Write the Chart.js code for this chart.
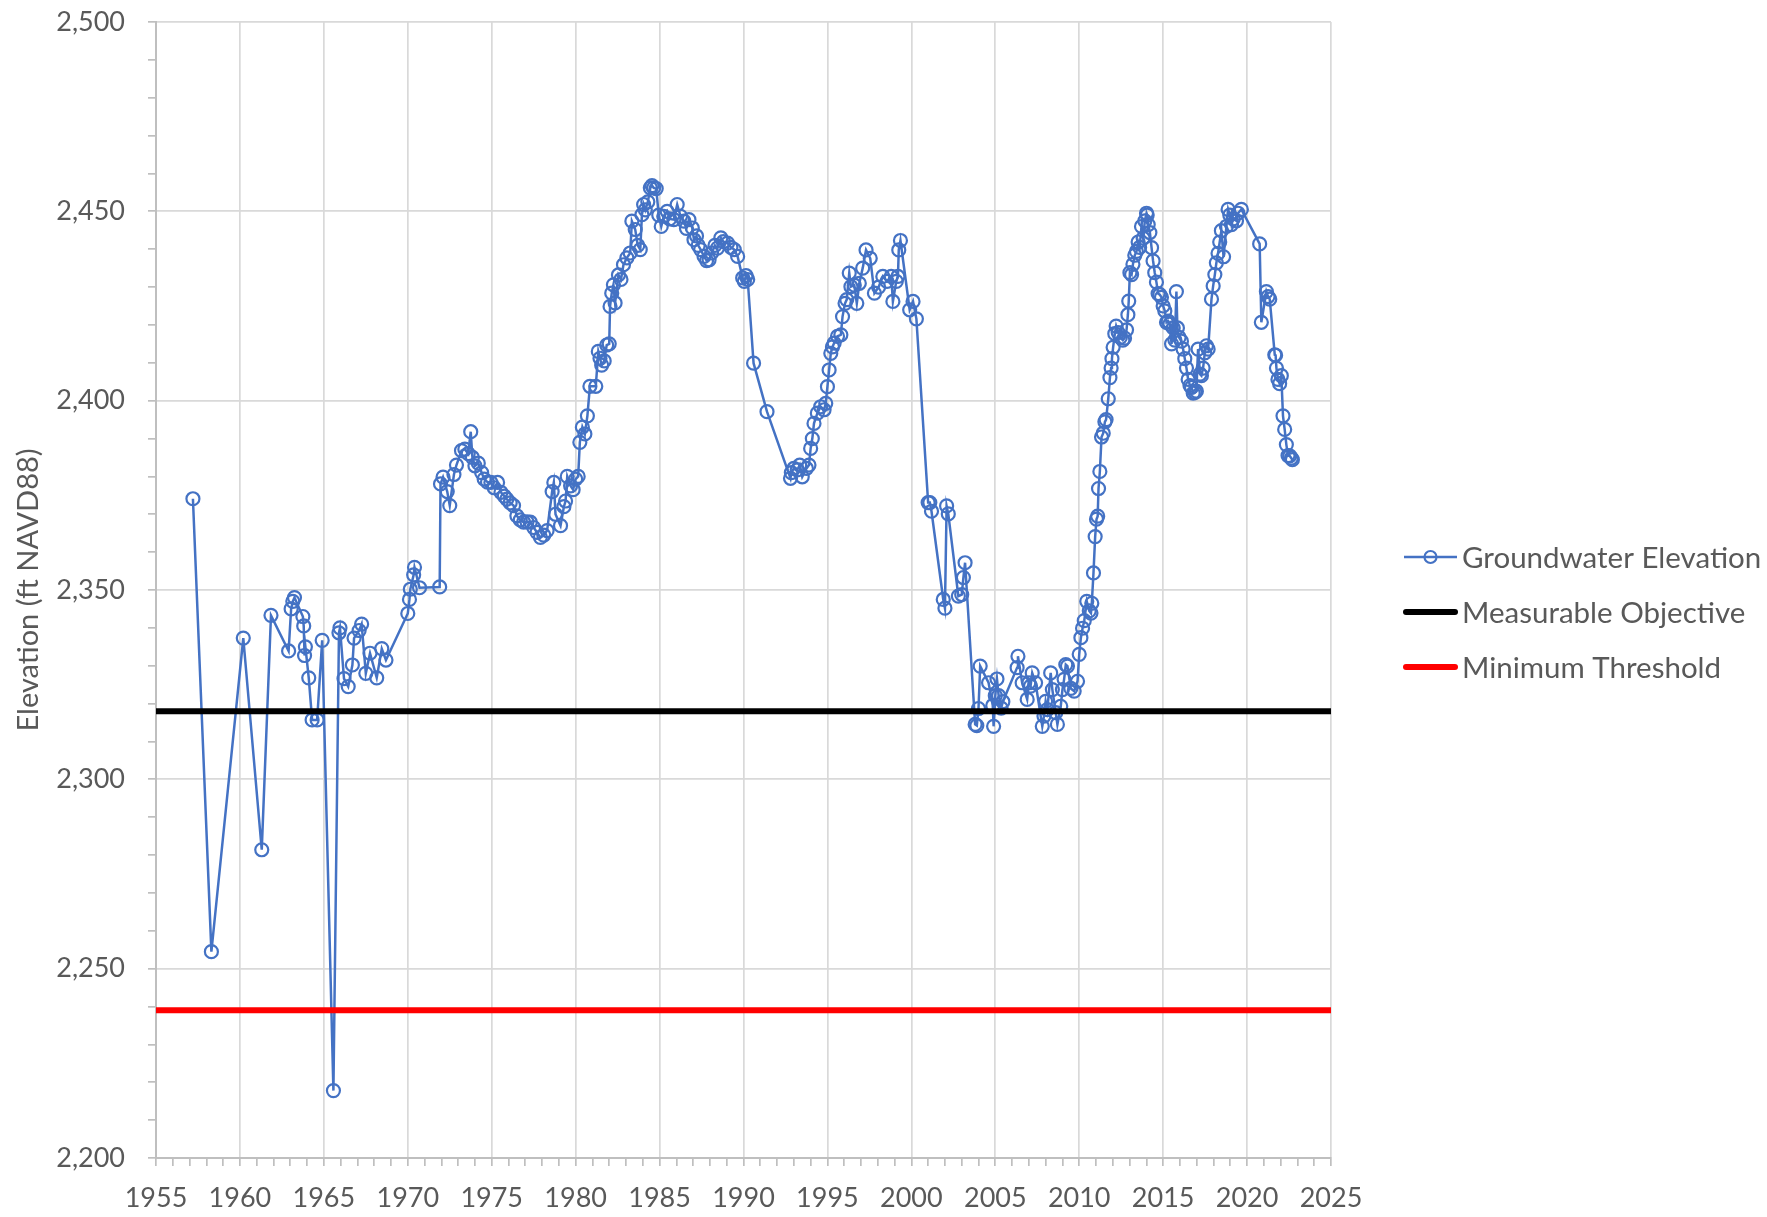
<!DOCTYPE html>
<html>
<head>
<meta charset="utf-8">
<script src="https://cdn.jsdelivr.net/npm/chart.js@4.4.1/dist/chart.umd.min.js"></script>
<style>
  html, body { margin: 0; padding: 0; background: #fff; }
  #wrap { width: 1767px; height: 1217px; }
</style>
</head>
<body>
<div id="wrap"><canvas id="chart" width="1767" height="1217"></canvas></div>
<script>
// sample dates (decimal year) and groundwater elevation (ft NAVD88)
const sampleYears = [
  1957.2, 1958.3, 1960.2, 1961.3, 1961.85, 1962.9, 1963.05, 1963.15, 1963.25, 1963.75,
  1963.8, 1963.85, 1963.9, 1964.1, 1964.3, 1964.6, 1964.9, 1965.57, 1965.9, 1965.96,
  1966.2, 1966.45, 1966.7, 1966.8, 1967.1, 1967.25, 1967.5, 1967.75, 1968.15, 1968.45,
  1968.7, 1970.0, 1970.1, 1970.15, 1970.35, 1970.4, 1970.7, 1971.9, 1971.95, 1972.1,
  1972.35, 1972.5, 1972.75, 1972.9, 1973.2, 1973.4, 1973.6, 1973.75, 1973.85, 1974.0,
  1974.2, 1974.4, 1974.55, 1974.75, 1974.95, 1975.15, 1975.35, 1975.55, 1975.75, 1975.9,
  1976.1, 1976.3, 1976.5, 1976.7, 1976.9, 1977.1, 1977.3, 1977.5, 1977.7, 1977.9,
  1978.1, 1978.3, 1978.6, 1978.7, 1978.8, 1979.1, 1979.3, 1979.4, 1979.5, 1979.7,
  1979.85, 1980.0, 1980.15, 1980.25, 1980.4, 1980.55, 1980.7, 1980.85, 1981.2, 1981.35,
  1981.45, 1981.55, 1981.7, 1981.85, 1982.0, 1982.05, 1982.15, 1982.25, 1982.35, 1982.55,
  1982.7, 1982.85, 1983.05, 1983.25, 1983.35, 1983.55, 1983.7, 1983.85, 1983.95, 1984.05,
  1984.15, 1984.3, 1984.45, 1984.55, 1984.65, 1984.8, 1984.95, 1985.1, 1985.25, 1985.45,
  1985.6, 1985.85, 1986.05, 1986.25, 1986.45, 1986.6, 1986.75, 1986.95, 1987.05, 1987.2,
  1987.3, 1987.45, 1987.65, 1987.8, 1987.95, 1988.1, 1988.3, 1988.45, 1988.65, 1988.8,
  1989.05, 1989.25, 1989.45, 1989.65, 1989.95, 1990.05, 1990.15, 1990.25, 1990.6, 1991.4,
  1992.8, 1992.85, 1993.0, 1993.2, 1993.35, 1993.5, 1993.75, 1993.9, 1994.0, 1994.1,
  1994.2, 1994.4, 1994.6, 1994.8, 1994.9, 1995.0, 1995.1, 1995.2, 1995.3, 1995.4,
  1995.6, 1995.8, 1995.9, 1996.05, 1996.15, 1996.3, 1996.4, 1996.6, 1996.75, 1996.9,
  1997.1, 1997.3, 1997.55, 1997.8, 1998.05, 1998.3, 1998.55, 1998.8, 1998.9, 1999.1,
  1999.2, 1999.25, 1999.35, 1999.9, 2000.1, 2000.3, 2001.0, 2001.1, 2001.2, 2001.9,
  2002.0, 2002.1, 2002.2, 2002.8, 2003.0, 2003.1, 2003.2, 2003.8, 2003.9, 2004.0,
  2004.1, 2004.6, 2004.85, 2004.9, 2005.0, 2005.1, 2005.2, 2005.35, 2005.45, 2006.3,
  2006.35, 2006.6, 2006.9, 2007.0, 2007.1, 2007.2, 2007.4, 2007.8, 2007.9, 2008.0,
  2008.1, 2008.3, 2008.4, 2008.6, 2008.7, 2008.9, 2009.0, 2009.1, 2009.2, 2009.3,
  2009.5, 2009.7, 2009.9, 2010.0, 2010.1, 2010.2, 2010.3, 2010.45, 2010.6, 2010.7,
  2010.75, 2010.85, 2010.95, 2011.03, 2011.1, 2011.15, 2011.23, 2011.33, 2011.43, 2011.53,
  2011.6, 2011.73, 2011.83, 2011.9, 2011.95, 2012.02, 2012.12, 2012.2, 2012.32, 2012.45,
  2012.6, 2012.7, 2012.82, 2012.9, 2012.95, 2013.02, 2013.12, 2013.2, 2013.31, 2013.41,
  2013.51, 2013.6, 2013.71, 2013.81, 2013.91, 2014.01, 2014.05, 2014.11, 2014.21, 2014.31,
  2014.4, 2014.5, 2014.6, 2014.7, 2014.8, 2014.9, 2015.0, 2015.1, 2015.2, 2015.3,
  2015.4, 2015.5, 2015.6, 2015.7, 2015.79, 2015.85, 2015.95, 2016.09, 2016.19, 2016.29,
  2016.39, 2016.49, 2016.6, 2016.69, 2016.79, 2016.9, 2016.98, 2017.08, 2017.2, 2017.28,
  2017.38, 2017.48, 2017.58, 2017.68, 2017.88, 2017.98, 2018.08, 2018.17, 2018.27, 2018.37,
  2018.47, 2018.6, 2018.77, 2018.87, 2018.97, 2019.07, 2019.17, 2019.37, 2019.46, 2019.66,
  2020.75, 2020.85, 2021.15, 2021.25, 2021.35, 2021.65, 2021.7, 2021.75, 2021.84, 2021.94,
  2022.04, 2022.14, 2022.24, 2022.34, 2022.44, 2022.54, 2022.64, 2022.7
];
const groundwaterElev = [
  2374.1, 2254.5, 2337.3, 2281.4, 2343.3, 2333.9, 2345, 2347, 2348, 2343,
  2340.5, 2332.7, 2335, 2326.8, 2315.7, 2315.7, 2336.7, 2217.8, 2338.7, 2340,
  2326.6, 2324.5, 2330.2, 2337.3, 2339.3, 2341, 2328, 2333.3, 2326.8, 2334.5,
  2331.5, 2343.8, 2347.5, 2350.2, 2354, 2356, 2350.6, 2350.8, 2378, 2379.8,
  2376, 2372.3, 2380.5, 2383, 2386.8, 2387.2, 2386, 2391.8, 2385, 2382.8,
  2383.5, 2381, 2379.3, 2378.5, 2378.4, 2377, 2378.4, 2375.8, 2374.8, 2374,
  2373, 2372.3, 2369.6, 2368.5, 2367.9, 2368, 2367.9, 2366.5, 2365.2, 2363.9,
  2364.5, 2365.7, 2376, 2378.4, 2370, 2367, 2372, 2373.5, 2380, 2377.5,
  2376.5, 2379.3, 2380, 2389, 2393, 2391.2, 2396, 2403.8, 2403.8, 2413,
  2411.2, 2409.4, 2410.5, 2414.7, 2415, 2424.9, 2428.4, 2430.6, 2425.8, 2433.2,
  2432, 2435.9, 2437.7, 2439, 2447.4, 2445.2, 2441, 2439.9, 2449.1, 2451.8,
  2450.4, 2452.5, 2456.2, 2456.8, 2456.2, 2456, 2449, 2446, 2448.7, 2450,
  2448, 2447.8, 2451.8, 2448.7, 2447.4, 2445.5, 2447.8, 2445.6, 2442.5, 2443.5,
  2441, 2439.9, 2438.1, 2437, 2437.2, 2439, 2441, 2440.3, 2443, 2442,
  2441.6, 2440.5, 2439.9, 2438.1, 2432.4, 2431.5, 2433, 2432, 2409.9, 2397.1,
  2379.5, 2381, 2382.1, 2381.7, 2383, 2379.9, 2382.1, 2383, 2387.4, 2390,
  2394, 2396.7, 2398.4, 2397.6, 2399.3, 2403.7, 2408.1, 2412.5, 2414.2, 2415.2,
  2417, 2417.4, 2422.2, 2425.7, 2426.7, 2433.7, 2430.1, 2430.5, 2425.7, 2431,
  2435, 2439.8, 2437.6, 2428.4, 2430, 2432.8, 2431.5, 2432.8, 2426.2, 2431.5,
  2432.8, 2439.8, 2442.3, 2424, 2426.2, 2421.6, 2373.1, 2373.1, 2370.8, 2347.5,
  2345.2, 2372.2, 2370.1, 2348.4, 2348.8, 2353.3, 2357.2, 2314.5, 2314.2, 2318.7,
  2329.9, 2325.5, 2319.5, 2314, 2322.1, 2326.5, 2322.1, 2318.8, 2320.5, 2329.5,
  2332.5, 2325.5, 2321.1, 2325.5, 2324.6, 2328.1, 2325.5, 2314, 2316.7, 2320.6,
  2318.4, 2328.1, 2323.7, 2317.6, 2314.5, 2319.3, 2323.7, 2326.4, 2330.3, 2329.9,
  2324, 2323.3, 2325.9, 2333, 2337.4, 2339.9, 2341.9, 2347, 2344.5, 2343.9,
  2346.5, 2354.5, 2364.1, 2368.7, 2369.5, 2376.8, 2381.3, 2390.4, 2391.4, 2394.4,
  2395, 2400.5, 2406.1, 2408.6, 2411.1, 2414.1, 2417.7, 2419.7, 2418, 2416.7,
  2416, 2416.5, 2418.7, 2422.7, 2426.3, 2433.8, 2433.3, 2436, 2438.4, 2439.4,
  2441.9, 2440.5, 2446, 2442.9, 2447.5, 2449.5, 2449, 2446.5, 2444.4, 2440.4,
  2436.9, 2433.8, 2431.3, 2428.3, 2428, 2427.3, 2425, 2423.7, 2420.7, 2421,
  2420.2, 2415, 2419.2, 2416, 2428.8, 2419.2, 2416.7, 2415.7, 2413.6, 2411.1,
  2408.6, 2405.6, 2404, 2403.5, 2402, 2402.2, 2402.5, 2413.6, 2407, 2406.6,
  2408.6, 2412.6, 2414.5, 2413.6, 2426.8, 2430.3, 2433.3, 2436.4, 2438.9, 2441.9,
  2444.9, 2438, 2446, 2450.5, 2449, 2446.5, 2448, 2447.5, 2449.5, 2450.5,
  2441.4, 2420.7, 2428.8, 2427.5, 2426.8, 2412.1, 2412, 2408.6, 2405.6, 2404.5,
  2406.6, 2396, 2392.4, 2388.4, 2385.5, 2385.4, 2384.8, 2384.4
];
const measurableObjective = 2318;
const minimumThreshold = 2239;
const xRange = [1955, 2025];
const yRange = [2200, 2500];
const seriesNames = ['Groundwater Elevation', 'Measurable Objective', 'Minimum Threshold'];

const BLUE = '#4472C4';
const TEXT = '#595959';
const FONT = 'Lato, "Open Sans", sans-serif';

const gwPoints = sampleYears.map((yr, i) => ({ x: yr, y: groundwaterElev[i] }));

// legend drawn at the right side like the Excel original
const sideLegend = {
  id: 'sideLegend',
  afterDraw(chart) {
    const ctx = chart.ctx;
    const x0 = 1404, x1 = 1457, tx = 1462;
    const rows = [557, 612, 667];
    ctx.save();
    ctx.font = '29.5px ' + FONT;
    ctx.fillStyle = TEXT;
    ctx.textBaseline = 'middle';
    rows.forEach((y, i) => {
      if (i === 0) {
        ctx.strokeStyle = BLUE;
        ctx.lineWidth = 2.5;
        ctx.lineCap = 'butt';
        ctx.beginPath(); ctx.moveTo(x0, y); ctx.lineTo(x1, y); ctx.stroke();
        ctx.lineWidth = 2.2;
        ctx.beginPath(); ctx.arc((x0 + x1) / 2, y, 6, 0, Math.PI * 2); ctx.stroke();
      } else {
        ctx.strokeStyle = i === 1 ? '#000000' : '#FF0000';
        ctx.lineWidth = 6;
        ctx.lineCap = 'round';
        ctx.beginPath(); ctx.moveTo(x0 + 2, y); ctx.lineTo(x1 - 2, y); ctx.stroke();
      }
      ctx.fillText(seriesNames[i], tx, y + 1);
    });
    ctx.restore();
  }
};

new Chart(document.getElementById('chart').getContext('2d'), {
  type: 'line',
  data: {
    datasets: [
      {
        label: seriesNames[0],
        data: gwPoints,
        borderColor: BLUE,
        borderWidth: 2.5,
        pointStyle: 'circle',
        pointRadius: 6.5,
        pointBorderWidth: 2.2,
        pointBorderColor: BLUE,
        pointBackgroundColor: 'rgba(0,0,0,0)',
        tension: 0,
        order: 2
      },
      {
        label: seriesNames[1],
        data: xRange.map(x => ({ x: x, y: measurableObjective })),
        borderColor: '#000000',
        borderWidth: 6,
        pointRadius: 0,
        order: 1
      },
      {
        label: seriesNames[2],
        data: xRange.map(x => ({ x: x, y: minimumThreshold })),
        borderColor: '#FF0000',
        borderWidth: 6,
        pointRadius: 0,
        order: 1
      }
    ]
  },
  options: {
    responsive: false,
    animation: false,
    devicePixelRatio: 1,
    layout: { padding: { left: 0, right: 436, top: 22, bottom: 0 } },
    plugins: {
      legend: { display: false },
      tooltip: { enabled: false }
    },
    scales: {
      x: {
        type: 'linear',
        min: xRange[0],
        max: xRange[1],
        afterFit(scale) { scale.height = 59; },
        ticks: {
          stepSize: 1,
          autoSkip: false,
          maxRotation: 0,
          padding: 16,
          color: TEXT,
          font: { family: FONT, size: 27 },
          callback: v => (v % 5 === 0 ? String(v) : '')
        },
        grid: {
          color: c => (c.tick && c.tick.value % 5 === 0 ? '#d9d9d9' : 'rgba(0,0,0,0)'),
          lineWidth: 1.7,
          tickColor: '#bfbfbf',
          tickLength: 8
        },
        border: { color: '#bfbfbf', width: 2 }
      },
      y: {
        min: yRange[0],
        max: yRange[1],
        afterFit(scale) {
          scale.width = 156;
          scale.paddingTop = 0;
          scale.paddingBottom = 0;
        },
        ticks: {
          stepSize: 10,
          autoSkip: false,
          padding: 23,
          color: TEXT,
          font: { family: FONT, size: 27 },
          callback: v => (v % 50 === 0 ? v.toLocaleString('en-US') : '')
        },
        grid: {
          color: c => (c.tick && c.tick.value % 50 === 0 ? '#d9d9d9' : 'rgba(0,0,0,0)'),
          lineWidth: 1.7,
          tickColor: '#bfbfbf',
          tickLength: 8
        },
        border: { color: '#bfbfbf', width: 2 },
        title: {
          display: true,
          text: 'Elevation (ft NAVD88)',
          color: TEXT,
          font: { family: FONT, size: 29 },
          padding: { top: 11, bottom: 0 }
        }
      }
    }
  },
  plugins: [sideLegend]
});
</script>
</body>
</html>
